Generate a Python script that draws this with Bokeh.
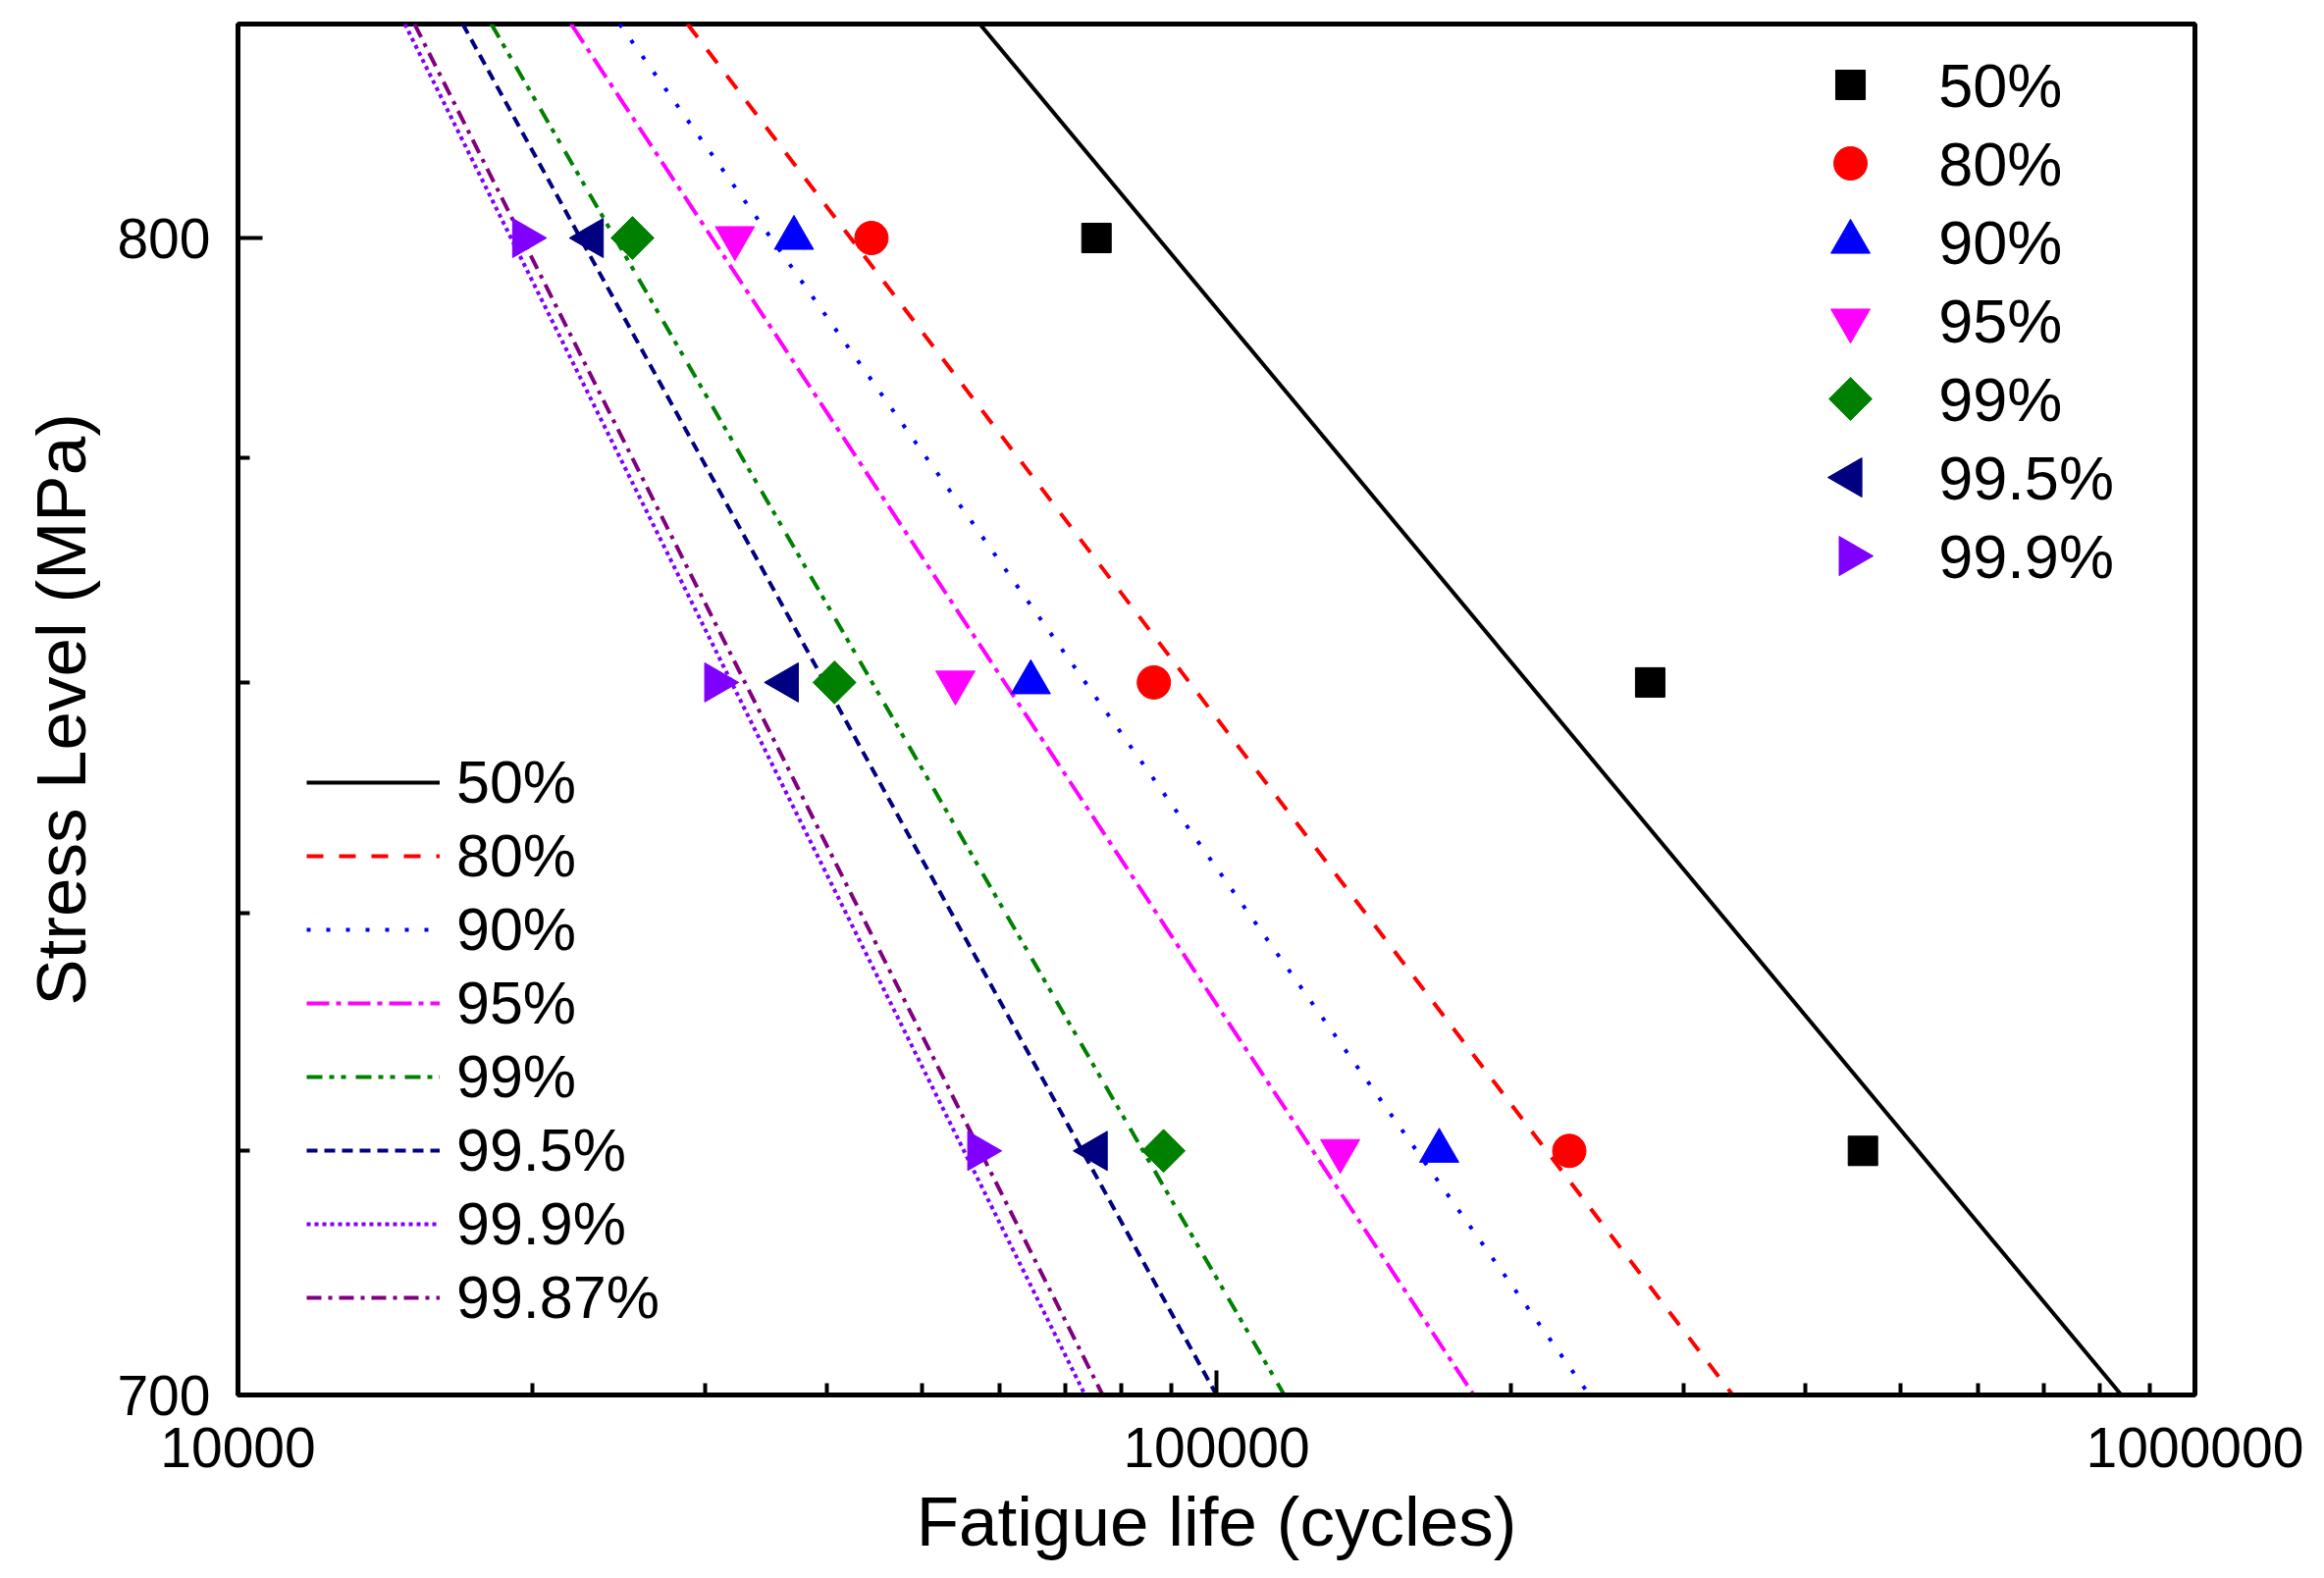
import math
from bokeh.plotting import figure
from bokeh.models import Legend, LegendItem, FixedTicker, NumeralTickFormatter
from bokeh.core.properties import value
from bokeh.embed import file_html
from bokeh.resources import INLINE

# ---------------- data ----------------
stress_levels = [800, 760, 720]          # MPa
life_50 = [75400, 277500, 457800]
life_80 = [44400, 86300, 229400]
life_90 = [37000, 64600, 168900]
life_95 = [32200, 54100, 133800]
life_99 = [25300, 40700, 88300]
life_995 = [23000, 36400, 75300]
life_999 = [19600, 30800, 57200]
point_labels = ["50%", "80%", "90%", "95%", "99%", "99.5%", "99.9%"]

# fitted P-S-N lines (life at the two stress ends of the plot)
fit_stress = [820, 700]
fit_50 = [57300, 841000]
fit_80 = [28800, 337000]
fit_90 = [24550, 240500]
fit_95 = [21900, 183200]
fit_99 = [18150, 117300]
fit_995 = [16970, 100000]
fit_999 = [14810, 73400]
fit_9987 = [15150, 76500]
fit_labels = ["50%", "80%", "90%", "95%", "99%", "99.5%", "99.9%", "99.87%"]

x_major_ticks = [10000, 100000, 1000000]
y_major_ticks = [700, 800]
y_minor_ticks = [720, 740, 760, 780]

FONT = "Liberation Sans"
X_RANGE = (10000, 1000000)
Y_RANGE = (700, 820)

p = figure(width=2360, height=1600, x_axis_type="log", y_axis_type="log",
           x_range=X_RANGE, y_range=Y_RANGE, output_backend="svg",
           toolbar_location=None, min_border_left=242, min_border_right=124,
           min_border_top=24, min_border_bottom=179)
p.grid.visible = False
p.outline_line_color = "black"
p.outline_line_width = 5
p.background_fill_color = "white"

x_minor = [k * 10 ** e for e in (4, 5) for k in range(2, 10)]
p.xaxis.ticker = FixedTicker(ticks=x_major_ticks, minor_ticks=x_minor)
p.yaxis.ticker = FixedTicker(ticks=y_major_ticks, minor_ticks=y_minor_ticks)
p.xaxis.formatter = NumeralTickFormatter(format="0")
p.yaxis.formatter = NumeralTickFormatter(format="0")
p.xaxis.axis_label = "Fatigue life (cycles)"
p.yaxis.axis_label = "Stress Level (MPa)"
for ax in (p.xaxis[0], p.yaxis[0]):
    ax.axis_line_width = 5
    ax.axis_line_color = "black"
    ax.major_tick_in = 25
    ax.major_tick_out = 0
    ax.minor_tick_in = 12
    ax.minor_tick_out = 0
    ax.major_tick_line_width = 4
    ax.minor_tick_line_width = 4
    ax.major_label_text_font = FONT
    ax.major_label_text_font_size = "57px"
    ax.major_label_text_color = "black"
    ax.axis_label_text_font = FONT
    ax.axis_label_text_font_size = "71px"
    ax.axis_label_text_font_style = "normal"
    ax.axis_label_text_color = "black"
p.xaxis.major_label_standoff = 33
p.xaxis.axis_label_standoff = 13
p.yaxis.major_label_standoff = 28
p.yaxis.axis_label_standoff = 14

# ---------------- fitted lines ----------------
line_specs = [
    (fit_50, "black", "solid"),
    (fit_80, "#FF0000", "17 16"),
    (fit_90, "#0000FF", "4 16"),
    (fit_95, "#FF00FF", "23 7 5 7"),
    (fit_99, "#008000", "16 7 5 7 5 10"),
    (fit_995, "#000080", "11 7"),
    (fit_999, "#8000FF", "4 4"),
    (fit_9987, "#800080", "15 7 4 7"),
]
line_items = []
for (xs, color, dash), lbl in zip(line_specs, fit_labels):
    r = p.line(x=xs, y=fit_stress, line_color=color, line_width=4, line_dash=dash)
    line_items.append(LegendItem(label=lbl, renderers=[r]))

# location = bottom-left corner of the legend, measured from the frame's bottom-left
leg = Legend(items=line_items, location=(70, 64), orientation="vertical",
             glyph_width=136, glyph_height=70, label_height=70, spacing=5,
             padding=0, margin=0, label_standoff=17,
             label_text_font=FONT, label_text_font_size="61px",
             label_text_color="black",
             border_line_alpha=0, background_fill_alpha=0)
p.add_layout(leg)

# ---------------- data points ----------------
HALF_PI = math.pi / 2
marker_specs = [
    (life_50, "square", 30, 0.0, "black"),
    (life_80, "circle", 34, 0.0, "#FF0000"),
    (life_90, "triangle", 40, 0.0, "#0000FF"),
    (life_95, "inverted_triangle", 40, 0.0, "#FF00FF"),
    (life_99, "square", 31, math.pi / 4, "#008000"),
    (life_995, "triangle", 40, HALF_PI, "#000080"),
    (life_999, "triangle", 40, -HALF_PI, "#8000FF"),
]
for xs, mk, sz, ang, color in marker_specs:
    p.scatter(x=xs, y=stress_levels, marker=mk, size=sz, angle=ang,
              fill_color=color, line_color=color, line_width=1)

# ---------------- marker legend (top right), placed by frame fractions ----------------
def frame_x(f):
    lo, hi = math.log10(X_RANGE[0]), math.log10(X_RANGE[1])
    return 10 ** (lo + (hi - lo) * f)

def frame_y(f_from_top):
    lo, hi = math.log10(Y_RANGE[0]), math.log10(Y_RANGE[1])
    return 10 ** (hi - (hi - lo) * f_from_top)

leg_marker_fx = 0.824
leg_text_fx = 0.869
leg_row0 = 0.0444
leg_pitch = 0.05727
for i, ((xs, mk, sz, ang, color), lbl) in enumerate(zip(marker_specs, point_labels)):
    yy = frame_y(leg_row0 + i * leg_pitch)
    p.scatter(x=[frame_x(leg_marker_fx)], y=[yy], marker=mk, size=sz, angle=ang,
              fill_color=color, line_color=color, line_width=1)
    p.text(x=[frame_x(leg_text_fx)], y=[yy], text=[lbl], text_font=value(FONT),
           text_font_size=value("63px"), text_baseline="middle", text_align="left",
           text_color="black")

open("out.html", "w").write(file_html(p, INLINE))
